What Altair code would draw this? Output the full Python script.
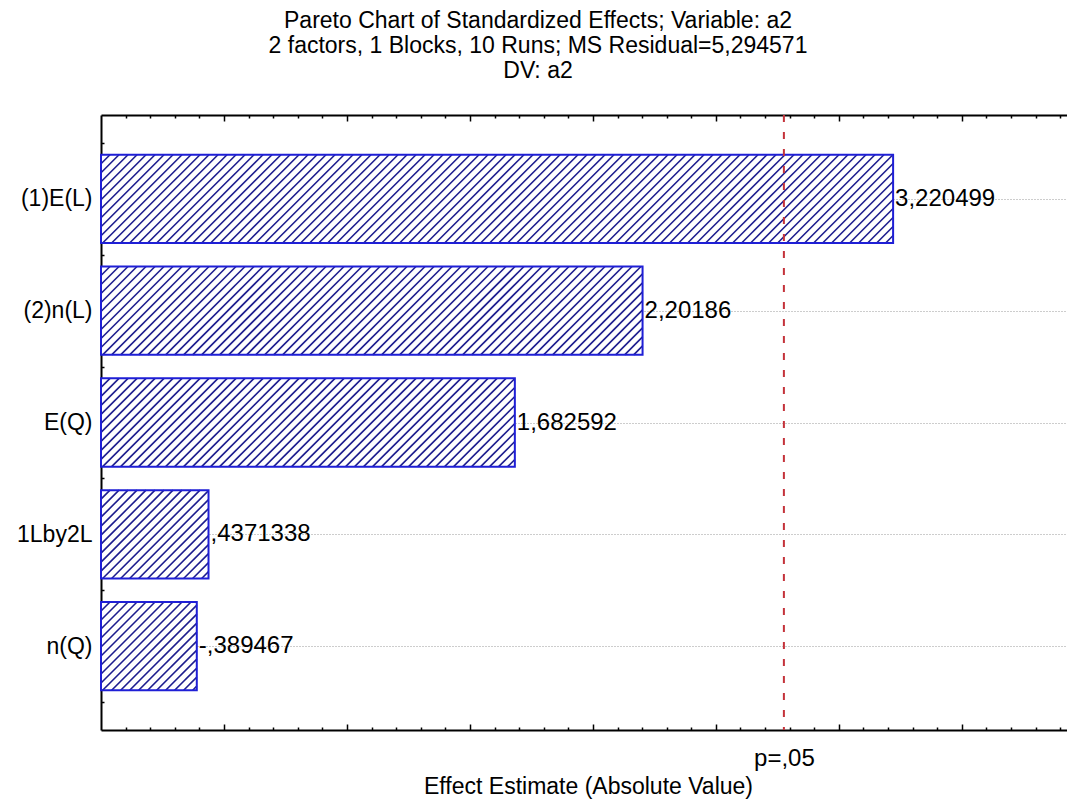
import altair as alt
import pandas as pd

# ---------------- data ----------------
EFFECTS = ["(1)E(L)", "(2)n(L)", "E(Q)", "1Lby2L", "n(Q)"]
ESTIMATES = [3.220499, 2.20186, 1.682592, 0.4371338, -0.389467]
P_CRIT = 2.776445
P_LABEL = "p=,05"
TITLE_LINES = [
    "Pareto Chart of Standardized Effects; Variable: a2",
    "2 factors, 1 Blocks, 10 Runs; MS Residual=5,294571",
    "DV: a2",
]
X_TITLE = "Effect Estimate (Absolute Value)"
X_MAJOR = [0.5, 1.0, 1.5, 2.0, 2.5, 3.0, 3.5]
X_MINOR = [0.1, 0.2, 0.3, 0.4, 0.6, 0.7, 0.8, 0.9, 1.1, 1.2, 1.3, 1.4,
           1.6, 1.7, 1.8, 1.9, 2.1, 2.2, 2.3, 2.4, 2.6, 2.7, 2.8, 2.9,
           3.1, 3.2, 3.3, 3.4, 3.6, 3.7, 3.8, 3.9]
Y_MAJOR = [0, 1, 2, 3, 4]
Y_MINOR = [-0.5, -0.25, 0.25, 0.5, 0.75, 1.25, 1.5, 1.75, 2.25, 2.5, 2.75,
           3.25, 3.5, 3.75, 4.25, 4.5]

# ---------------- style / layout ----------------
FONT = "Liberation Sans"
FS = 23
FS_VAL = 24
FS_TITLE = 23
PLOT_W, PLOT_H = 966, 615
PX_X = 245.96                    # pixels per effect unit
X_MAX = round(PLOT_W / PX_X, 4)
Y_MIN, Y_MAX = -0.75, 4.75
HH = 0.395                       # half bar thickness (band units)
PX_Y = PLOT_H / (Y_MAX - Y_MIN)
HATCH_H = round(2 * HH * PX_Y / PX_X, 5)   # 45 degree hatch
HATCH_DX = round(9.0 / PX_X, 5)            # ~9px spacing
BAR_EDGE = "#1f1fd6"
HATCH_COLOR = "#1d1d8e"
P_COLOR = "#c4323a"

df = pd.DataFrame({"effect": EFFECTS, "estimate": ESTIMATES,
                   "idx": list(range(len(EFFECTS)))})
pdf = pd.DataFrame({"p": [P_CRIT]})

xs = alt.Scale(domain=[0, X_MAX], nice=False, zero=False)
ys = alt.Scale(domain=[Y_MIN, Y_MAX], nice=False, zero=False, reverse=True)

label_expr = "[" + ",".join("'%s'" % e for e in EFFECTS) + "][datum.value]"

ax_bottom = alt.Axis(orient="bottom", domain=True, domainColor="black", domainWidth=2,
                     ticks=False, grid=False, values=[P_CRIT], labelExpr="'%s'" % P_LABEL,
                     labelFontSize=FS_VAL, labelColor="black", labelPadding=16, labelFlush=False,
                     title=X_TITLE, titleFontSize=FS, titleFontWeight="normal",
                     titleColor="black", titlePadding=5, titleX=487)
ax_left = alt.Axis(orient="left", domain=True, domainColor="black", domainWidth=2,
                   ticks=False, values=Y_MAJOR, labelExpr=label_expr, labelFontSize=FS,
                   labelColor="black", labelPadding=9, grid=True, gridColor="#9a9a9a",
                   gridDash=[1, 2], gridWidth=1, title=None)
ax_top_line = alt.Axis(orient="top", domain=True, domainColor="black", domainWidth=2,
                       ticks=False, labels=False, grid=False, title=None)


def in_ticks(orient, offset, values, size):
    return alt.Axis(orient=orient, offset=offset, domain=False, ticks=True, tickSize=size,
                    tickWidth=1.5, tickColor="black", values=values, labels=False,
                    grid=False, title=None)


base = alt.Chart(df).transform_calculate(
    absv="abs(datum.estimate)",
    zero="0",
    top="datum.idx - %s" % HH,
    bot="datum.idx + %s" % HH,
)

bars_fill = base.mark_rect(fill="white", strokeWidth=0).encode(
    x=alt.X("zero:Q", scale=xs, axis=ax_bottom),
    x2="absv:Q",
    y=alt.Y("top:Q", scale=ys, axis=ax_left),
    y2="bot:Q",
)

hatch = base.transform_calculate(
    s="sequence(%s, datum.absv + %s, %s)" % (HATCH_DX, HATCH_H, HATCH_DX)
).transform_flatten(["s"]).transform_calculate(
    tmin="max(0, (%s - datum.s) / %s)" % (HATCH_H, HATCH_H),
    tmax="min(1, (datum.absv - datum.s + %s) / %s)" % (HATCH_H, HATCH_H),
).transform_filter("datum.tmax > datum.tmin").transform_calculate(
    hx0="datum.s - %s + %s * datum.tmin" % (HATCH_H, HATCH_H),
    hx1="datum.s - %s + %s * datum.tmax" % (HATCH_H, HATCH_H),
    hy0="datum.bot - %s * datum.tmin" % (2 * HH),
    hy1="datum.bot - %s * datum.tmax" % (2 * HH),
).mark_rule(color=HATCH_COLOR, strokeWidth=1.6).encode(
    x=alt.X("hx0:Q", scale=xs, axis=ax_top_line),
    x2="hx1:Q",
    y=alt.Y("hy0:Q", scale=ys, axis=in_ticks("right", -PLOT_W, Y_MINOR, 3)),
    y2="hy1:Q",
)

outline = base.mark_rect(fillOpacity=0, stroke=BAR_EDGE, strokeWidth=2).encode(
    x=alt.X("zero:Q", scale=xs, axis=in_ticks("top", -PLOT_H, X_MINOR, 3)),
    x2="absv:Q",
    y=alt.Y("top:Q", scale=ys, axis=in_ticks("right", -PLOT_W, Y_MAJOR, 5)),
    y2="bot:Q",
)

pline = alt.Chart(pdf).mark_rule(color=P_COLOR, strokeDash=[7, 10], strokeWidth=2).encode(
    x=alt.X("p:Q", scale=xs, axis=in_ticks("bottom", -PLOT_H, X_MAJOR, 6)),
)

labels = base.transform_calculate(
    fmt="format(datum.absv, '.7~g')"
).transform_calculate(
    label="(datum.estimate < 0 ? '-' : '') + replace(datum.absv < 1 ? substring(datum.fmt, 1) : datum.fmt, '.', ',')"
).mark_text(align="left", baseline="middle", dx=2, fontSize=FS_VAL, color="black").encode(
    x=alt.X("absv:Q", scale=xs, axis=in_ticks("top", -PLOT_H, X_MAJOR, 6)),
    y=alt.Y("idx:Q", scale=ys, axis=None),
    text="label:N",
)

holder = alt.Chart(pdf).mark_rule(opacity=0).encode(
    x=alt.X("p:Q", scale=xs, axis=in_ticks("bottom", -PLOT_H, X_MINOR, 3)),
)

chart = alt.layer(bars_fill, hatch, outline, pline, labels, holder).resolve_axis(
    x="independent", y="independent"
).properties(
    width=PLOT_W,
    height=PLOT_H,
    padding={"left": 93, "top": 107, "right": 0, "bottom": 71},
    autosize=alt.AutoSizeParams(type="none"),
    title=alt.Title(TITLE_LINES, fontSize=FS_TITLE, fontWeight="normal", color="black",
                    lineHeight=25, anchor="middle", dx=-46, offset=31, font=FONT),
).configure(font=FONT).configure_view(stroke=None)

chart.save("out.html", embed_options={"renderer": "svg", "actions": False})
